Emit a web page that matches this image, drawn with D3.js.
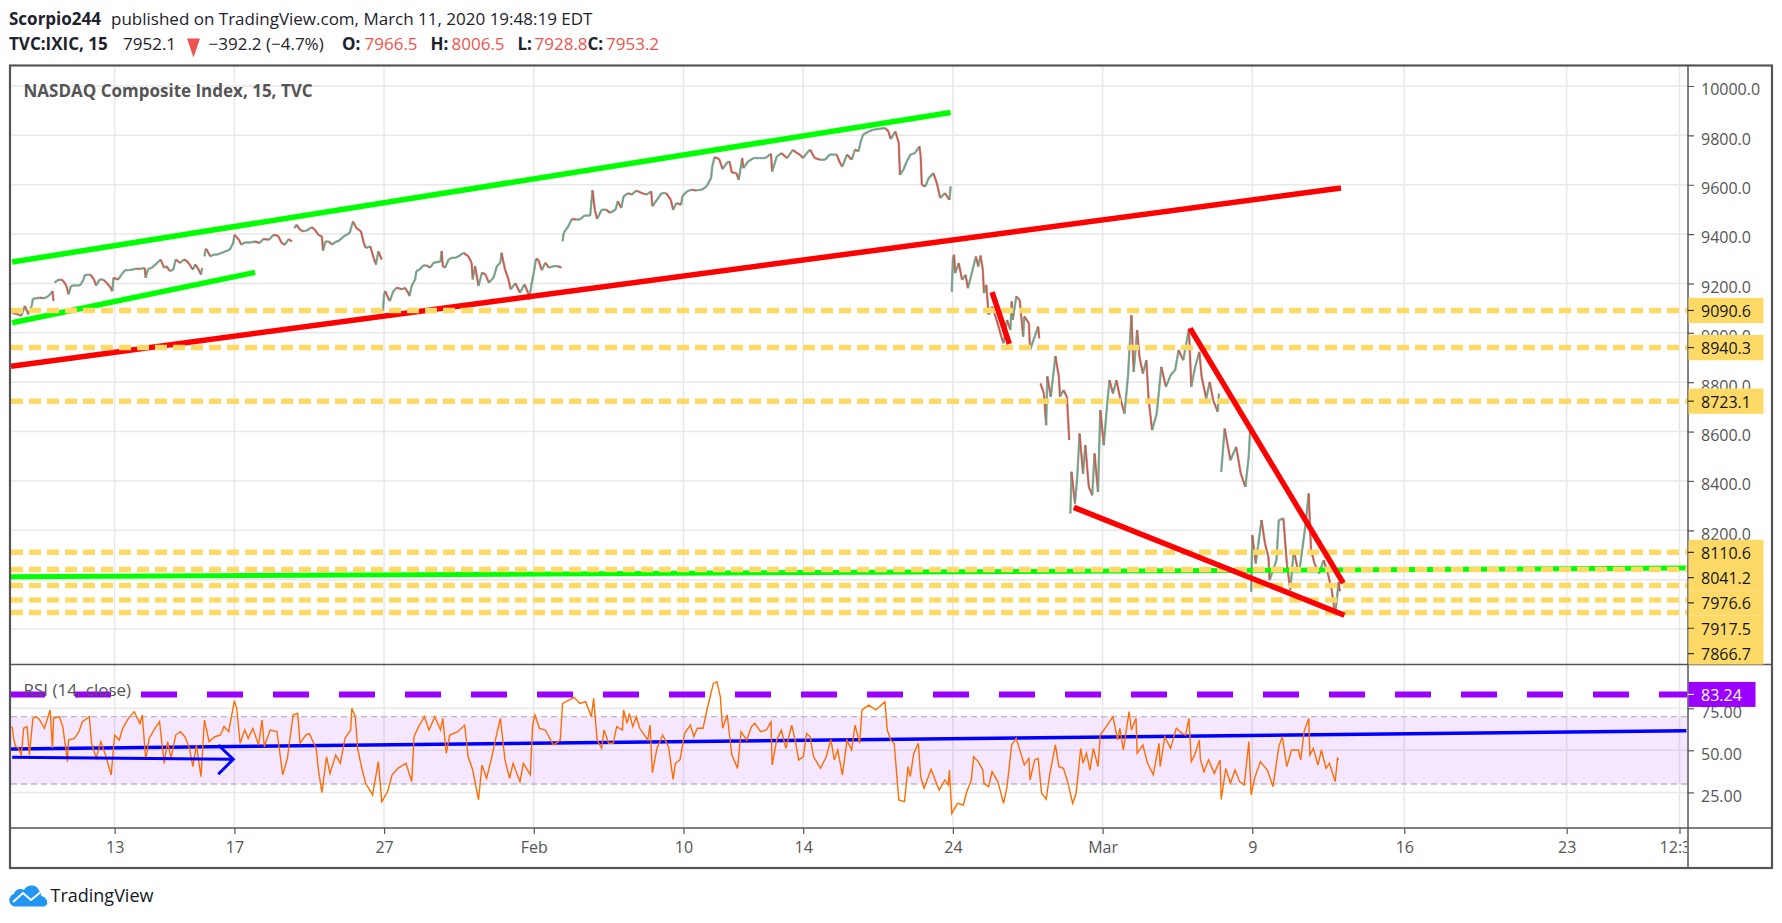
<!DOCTYPE html>
<html>
<head>
<meta charset="utf-8">
<title>NASDAQ Composite Index, 15, TVC</title>
<script src="https://cdn.jsdelivr.net/npm/d3@7"></script>
<style>
  html, body { margin: 0; padding: 0; background: #fff; overflow: hidden; }
  text { font-family: "Open Sans", "Noto Sans", sans-serif; }
</style>
</head>
<body>
<div id="chart"></div>
<script>
// price trace. bar = 15 minute bar number from the left edge
const priceBars = [1,3,6,9,12,15,18,19,22,25,28,31,34,36,37,38,40,43,45,48,50,52,54,57,60,63,64,69,72,74,77,80,83,86,88,89,93,96,99,102,105,109,112,116,117,119,122,127,130,133,135,138,141,143,147,150,153,155,158,160,163,165,166,168,169,170,173,176,179,184,190,193,194,198,200,203,208,212,216,219,224,228,232,235,238,241,244,246,248,251,254,257,261,264,267,270,271,273,276,279,282,284,289,294,297,300,304,306,308,312,315,317,319,322,323,324,325,328,329,332,335,340,342,345,
  346,348,351,352,355,358,361,364,367,370,373,374,375,377,380,383,386,390,393,397,400,401,403,406,409,412,415,419,422,425,426,429,432,434,438,442,446,449,450,452,454,456,458,461,464,467,471,475,478,479,480,484,487,491,494,498,503,505,507,509,513,517,520,525,527,530,532,536,539,543,548,552,556,557,561,565,569,573,575,578,582,583,587,591,595,600,604,608,609,611,615,618,622,624,626,630,632,635,636,640,645,650,655,660,661,665,669,674,679,682,
  685,688,691,694,698,703,707,711,714,717,720,722,726,730,733,736,738,740,745,749,753,759,762,764,768,771,772,775,778,781,785,789,790,791,794,797,801,804,807,811,815,816,817,818,819,820,823,826,829,831,834,838,840,842,844,845,847,849,852,856,860,862,865,868,869,870,873,876,879,880,884,885,888,892,893,894,897,899,900,903,907,910,911,914,917,919,
  920,921,924,926,928,931,933,936,939,941,944,946,949,952,954,957,960,963,967,970,973,975,978,980,983,986,988,991,995,999,1003,1007,1011,1014,1018,1023,1025,1028,1032,1034,1038,1041,1044,1048,1049,1051,1054,1059,1064,1068,1072,1075,1076,1077,1078,1081,1086,1089,1092,1093,1099,1101,1105,1108,1111,1114,1117,1119,1124,1127,1129,1132,1136,1140,1144,1147,1150,1153,1154];
const priceCloses = [9082,9078,9075,9069,9109,9075,9109,9138,9140,9142,9140,9144,9156,9169,9129,9203,9212,9216,9212,9192,9156,9189,9192,9192,9192,9216,9234,9236,9216,9192,9216,9216,9203,9187,9169,9223,9216,9236,9254,9254,9256,9260,9259,9263,9223,9259,9263,9283,9297,9263,9270,9250,9256,9297,9283,9297,9290,9277,9256,9277,9256,9236,9263,9310,9340,9337,9310,9317,9317,9326,9337,9364,9397,9377,9357,9366,9366,9370,9364,9380,9377,9397,9393,9364,9357,9380,9370,9424,9438,9417,9411,9415,9428,9417,9397,9391,9333,9370,9370,9357,9370,9370,9391,9404,9451,9424,9411,9370,9344,9350,9303,9277,9330,9297,9089,9156,9169,9136,9129,9169,9183,9176,9183,9162,
  9149,9190,9217,9250,9257,9273,9273,9264,9284,9287,9288,9331,9270,9264,9297,9304,9304,9314,9324,9311,9284,9217,9270,9190,9244,9237,9203,9223,9270,9284,9324,9257,9217,9176,9201,9163,9196,9163,9136,9196,9244,9300,9295,9254,9284,9264,9270,9270,9264,9371,9405,9432,9461,9459,9459,9475,9475,9577,9499,9461,9499,9499,9486,9499,9533,9506,9553,9566,9560,9576,9566,9560,9573,9513,9539,9566,9566,9539,9499,9526,9519,9553,9573,9580,9577,9580,9593,9627,9674,9712,9704,9663,9691,9694,9650,9647,9620,9708,9667,9694,9708,9708,9708,9725,9654,9714,9728,9708,9741,9730,
  9722,9708,9728,9742,9708,9701,9701,9722,9722,9722,9688,9674,9722,9701,9742,9735,9776,9803,9816,9823,9826,9830,9816,9785,9816,9769,9640,9661,9695,9722,9728,9755,9715,9600,9593,9627,9647,9607,9546,9566,9539,9593,9167,9302,9316,9242,9282,9215,9235,9181,9235,9309,9269,9313,9255,9161,9194,9073,9106,9052,8985,8958,9052,9012,9127,9052,9147,9133,8985,9066,9039,8931,8971,9025,8978,8795,8755,8626,8823,8741,8906,8823,8741,8768,8741,8566,
  8268,8437,8309,8417,8592,8430,8545,8376,8342,8511,8356,8687,8545,8714,8808,8754,8808,8741,8673,8822,9071,8842,9011,8903,8835,8889,8727,8606,8673,8862,8781,8828,8849,8930,8889,9017,8781,8855,8923,8822,8734,8801,8727,8680,8754,8437,8612,8484,8538,8430,8376,8504,8599,7951,8180,8066,8241,8147,8093,7998,8079,8241,8248,8066,7958,8120,8052,8039,8214,8349,8120,8066,8025,8079,8018,7958,7856,7991,7953];
// bars that open away from the previous close, no connection drawn
const gapBars = [38,168,246,323,479,817,894,920,1051,1077];

const rsiBars = [1,2,4,6,9,11,14,16,19,22,25,29,34,36,37,42,45,49,50,55,59,62,68,70,74,78,82,87,90,94,97,102,107,112,114,117,120,125,129,133,136,139,143,147,151,155,158,161,165,168,172,177,182,185,189,194,196,199,203,206,210,215,218,220,225,231,236,240,245,249,251,256,259,265,267,270,274,277,282,286,290,295,296,299,301,305,308,314,319,322,327,331,336,343,348,350,354,359,363,368,373,375,378,381,388,394,397,401,406,409,413,417,421,425,429,433,436,442,445,451,453,455,459,464,471,477,479,482,489,494,499,504,506,509,
  513,515,519,523,526,531,532,535,537,540,543,546,553,555,557,561,566,571,575,577,581,585,590,593,596,601,605,610,613,616,618,622,626,631,634,639,643,646,651,656,660,661,665,669,673,678,681,684,688,691,694,697,703,708,712,715,718,722,726,730,733,737,739,745,751,759,761,764,767,771,776,779,781,784,788,790,793,799,806,811,814,815,817,822,827,830,834,836,840,844,845,849,852,857,862,865,869,873,877,880,884,885,889,892,895,899,902,907,910,914,918,922,925,929,931,934,937,940,944,946,952,957,961,963,966,971,973,977,978,983,987,992,997,998,1002,1007,1012,1017,1020,1023,1025,1028,1032,
  1033,1036,1040,1045,1050,1051,1055,1059,1063,1067,1071,1075,1077,1080,1085,1091,1096,1101,1104,1108,1112,1118,1120,1123,1127,1128,1131,1135,1138,1142,1145,1150,1152,1153];
const rsiValues = [64.1,58.1,52.2,51.8,47.2,63.1,64.1,47.2,69,70,68,63.1,74,51.2,69,70,64.1,43.3,56.1,57.1,61.1,67,70,54.2,45.3,55.2,47.2,35.4,59.1,56.1,63.1,69,73,66,71,44.3,57.1,63.1,67,42.3,55.2,45.3,59.1,61.1,58.1,51.2,40.3,53.2,34.4,68,55.2,58.1,59.1,64.1,61.1,79.5,75,54.2,62.1,57.1,63.1,53.2,68,52.2,62.1,61.1,35.4,45.3,71,72,54.2,59.1,60.1,51.2,38.3,24.9,46.2,36.3,47.2,42.3,57.1,62.1,75,70,51.2,38.3,30.4,23.5,43.3,19.5,25.4,35.4,39.3,42.3,31.4,58.1,64.1,70,62.1,70,62.1,69,48.2,59.1,61.1,65,46.2,38.3,20.5,41.3,33.4,44.3,57.1,69,44.3,33.4,42.3,31.4,42.3,35.4,65,71,63.1,62.1,53.2,56.1,77.9,78.9,81.5,77.9,78.9,70,80.9,56.1,
  51.2,62.1,54.2,54.2,64.1,62.1,74,66,72,64.1,70,63.1,56.1,65,36.7,51.2,59.1,52.2,32.8,42.3,44.3,60.1,65,58.1,63.1,63.1,75.9,89.8,90.8,81.9,63.1,71,47.2,39.3,61.1,56.1,64.1,66,61.1,62.1,67,41.3,56.1,62.1,51.2,65,56.1,44.3,46.2,60.1,58.1,46.2,39.3,46.2,56.5,44.3,50.2,35.4,56.1,50.2,65,54.2,74,76.9,74,78.9,62.1,56.1,54.2,20.5,19.5,40.3,34.4,48.2,54.2,34.4,27.4,38.7,26.4,32.4,29.4,38.3,12.6,18.5,17.5,25.4,32.4,46.2,43.3,38.3,30.4,28.4,37.3,31.4,18.5,28.4,53.2,57.1,48.2,41.3,45.3,32.4,44.3,45.3,24.5,20.9,35.4,53.2,40.3,39.3,30.4,18.5,24.5,51.2,42.3,48.2,38.3,51.2,40.3,59.1,65,70,56.1,63.1,50.2,73,62.1,69,48.2,53.2,42.3,35.4,54.2,40.3,58.1,51.2,63.1,60.1,59.1,69,43.3,47.2,56.1,
  44.3,37.3,44.3,36.3,44.3,20.9,39.3,30.4,38.3,31.4,29.4,55.2,23.5,33.4,43.3,38.3,28.4,52.2,58.1,40.3,50.2,50.2,44.3,61.1,69,47.2,51.2,41.3,50.2,39.3,42.3,31.4,45.3,44.3];

const priceTicks = [10000,9800,9600,9400,9200,9000,8800,8600,8400,8200,8000,7800];
const rsiTicks = [75,50,25];
const timeTickBars = [90,194,324,454,584,688,818,948,1078,1210,1351,1449];
const timeTickLabels = ["13","17","27","Feb","10","14","24","Mar","9","16","23","12:30"];

// horizontal levels with labels on the price scale
const levelPrices = [9090.6,8940.3,8723.1,8110.6,8041.2,7976.6,7917.5,7866.7];
const rsiLevel = 83.24;
const rsiBand = [70,30];

// drawn trend lines, [bar, price] at each end
const lineBars = {
  greenTop: [1,816], greenLow: [1,212], greenFlat: [0,1455], redLong: [0,1155],
  redSlash: [852,867], wedgeTop: [1024,1157], wedgeLow: [923,1158]
};
const linePrices = {
  greenTop: [9287,9893], greenLow: [9041,9245], greenFlat: [8012,8047], redLong: [8865,9587],
  redSlash: [9165,8955], wedgeTop: [9018,7986], wedgeLow: [8293,7856]
};
const rsiTrendBars = [0,1455];
const rsiTrendValues = [50.8,61.7];
const arrowBars = [1,193,180,193,180];
const arrowValues = [45.9,44.7,53.2,44.7,35.8];

const width = 1782, height = 923;
const plotLeft = 11, plotRight = 1688, plotTop = 66, paneSplit = 664.5, timeTop = 828, plotBottom = 868, plotEdge = 1772;

const xScale = d3.scaleLinear().domain([0,1078]).range([11,1252.3]);
const yPrice = d3.scaleLinear().domain([10000,8200]).range([86,530.3]);
const yRsi = d3.scaleLinear().domain([70,30]).range([716.7,784]);

const svg = d3.select("#chart").append("svg")
  .attr("width", width)
  .attr("height", height)
  .style("display", "block");

const defs = svg.append("defs");
defs.append("clipPath").attr("id", "clip-price").append("rect")
  .attr("x", plotLeft).attr("y", plotTop).attr("width", plotRight - plotLeft - 1).attr("height", paneSplit - plotTop);
defs.append("clipPath").attr("id", "clip-rsi").append("rect")
  .attr("x", plotLeft).attr("y", paneSplit).attr("width", plotRight - plotLeft - 1).attr("height", timeTop - paneSplit);
defs.append("clipPath").attr("id", "clip-time").append("rect")
  .attr("x", plotLeft).attr("y", timeTop).attr("width", plotRight - plotLeft - 1).attr("height", plotBottom - timeTop);
defs.append("clipPath").attr("id", "clip-scale").append("rect")
  .attr("x", plotRight).attr("y", plotTop).attr("width", plotEdge - plotRight).attr("height", paneSplit - plotTop);

// header
const headRows = [
  { y: 24.5, bits: [
    { x: 9, t: "Scorpio244", w: 700 },
    { x: 111, t: "published on TradingView.com, March 11, 2020 19:48:19 EDT" }
  ]},
  { y: 49.5, bits: [
    { x: 9, t: "TVC:IXIC, 15", w: 700 },
    { x: 123, t: "7952.1" },
    { x: 208.5, t: "\u2212392.2 (\u22124.7%)" },
    { x: 342, t: "O:", w: 700 },
    { x: 364.5, t: "7966.5", c: "#ef5350" },
    { x: 430.5, t: "H:", w: 700 },
    { x: 451.5, t: "8006.5", c: "#ef5350" },
    { x: 517.5, t: "L:", w: 700 },
    { x: 534.5, t: "7928.8", c: "#ef5350" },
    { x: 587.5, t: "C:", w: 700 },
    { x: 606, t: "7953.2", c: "#ef5350" }
  ]}
];
headRows.forEach(row => {
  row.bits.forEach(b => {
    svg.append("text").attr("x", b.x).attr("y", row.y).text(b.t)
      .attr("font-size", 17).attr("font-weight", b.w || 400).attr("fill", b.c || "#1e222d");
  });
});
svg.append("path").attr("d", "M187,38.5 h13 l-6.5,19 z").attr("fill", "#ef5350");

// grid
const gridG = svg.append("g").attr("stroke", "#e8e8e8").attr("stroke-width", 1.5);
gridG.selectAll(".vp").data(timeTickBars).enter().append("line")
  .attr("x1", d => xScale(d)).attr("x2", d => xScale(d))
  .attr("y1", plotTop).attr("y2", timeTop);
gridG.selectAll(".hp").data(priceTicks).enter().append("line")
  .attr("x1", plotLeft).attr("x2", plotRight)
  .attr("y1", d => yPrice(d)).attr("y2", d => yPrice(d));
gridG.selectAll(".hr").data(rsiTicks).enter().append("line")
  .attr("x1", plotLeft).attr("x2", plotRight)
  .attr("y1", d => yRsi(d)).attr("y2", d => yRsi(d));

// price pane
const priceG = svg.append("g").attr("clip-path", "url(#clip-price)");

const tracePairs = priceBars.map((b, i) => ({ bar: b, close: priceCloses[i], prev: priceCloses[i - 1], prevBar: priceBars[i - 1] })).slice(1)
  .filter(d => !gapBars.includes(d.bar));

priceG.append("g").selectAll("line").data(tracePairs).enter().append("line")
  .attr("x1", d => xScale(d.prevBar)).attr("x2", d => xScale(d.bar))
  .attr("y1", d => yPrice(d.prev)).attr("y2", d => yPrice(d.close))
  .attr("stroke", "#737375").attr("stroke-width", 2.4).attr("stroke-opacity", 0.55);
priceG.append("g").selectAll("line").data(tracePairs).enter().append("line")
  .attr("x1", d => xScale(d.prevBar)).attr("x2", d => xScale(d.bar))
  .attr("y1", d => yPrice(d.prev)).attr("y2", d => yPrice(d.close))
  .attr("stroke", d => d.close >= d.prev ? "#6ba583" : "#d75442").attr("stroke-width", 1.5);

function drawTrend(name, color, w) {
  priceG.append("line")
    .attr("x1", xScale(lineBars[name][0])).attr("x2", xScale(lineBars[name][1]))
    .attr("y1", yPrice(linePrices[name][0])).attr("y2", yPrice(linePrices[name][1]))
    .attr("stroke", color).attr("stroke-width", w);
}
drawTrend("greenTop", "#00ff00", 5.5);
drawTrend("greenLow", "#00ff00", 5.5);
drawTrend("greenFlat", "#00ff00", 5);
drawTrend("redLong", "#ff0000", 5.5);

priceG.append("g").selectAll("line").data(levelPrices).enter().append("line")
  .attr("x1", plotLeft).attr("x2", plotRight)
  .attr("y1", d => yPrice(d)).attr("y2", d => yPrice(d))
  .attr("stroke", "#ffd966").attr("stroke-width", 5.5)
  .attr("stroke-dasharray", "12 6");

drawTrend("redSlash", "#ff0000", 5.5);
drawTrend("wedgeTop", "#ff0000", 5.5);
drawTrend("wedgeLow", "#ff0000", 5.5);

svg.append("text").attr("x", 23.5).attr("y", 96.5).text("NASDAQ Composite Index, 15, TVC")
  .attr("font-size", 17).attr("font-weight", 700).attr("fill", "#555");

// rsi pane
const rsiG = svg.append("g").attr("clip-path", "url(#clip-rsi)");
rsiG.append("rect")
  .attr("x", plotLeft).attr("width", plotRight - plotLeft)
  .attr("y", yRsi(rsiBand[0])).attr("height", yRsi(rsiBand[1]) - yRsi(rsiBand[0]))
  .attr("fill", "#9915ff").attr("fill-opacity", 0.1);
rsiG.append("g").selectAll("line").data(rsiBand).enter().append("line")
  .attr("x1", plotLeft).attr("x2", plotRight)
  .attr("y1", d => yRsi(d)).attr("y2", d => yRsi(d))
  .attr("stroke", "#bcb8c0").attr("stroke-width", 1.3).attr("stroke-dasharray", "6 4");

const rsiPath = d3.line().x(d => xScale(d[0])).y(d => yRsi(d[1]));
rsiG.append("line")
  .attr("x1", xScale(rsiTrendBars[0])).attr("x2", xScale(rsiTrendBars[1]))
  .attr("y1", yRsi(rsiTrendValues[0])).attr("y2", yRsi(rsiTrendValues[1]))
  .attr("stroke", "#0000ff").attr("stroke-width", 3.5);
rsiG.append("path")
  .attr("d", rsiPath(rsiBars.map((b, i) => [b, rsiValues[i]])))
  .attr("fill", "none").attr("stroke", "#ff6d00").attr("stroke-width", 1.4);
rsiG.append("line")
  .attr("x1", plotLeft).attr("x2", plotRight)
  .attr("y1", yRsi(rsiLevel)).attr("y2", yRsi(rsiLevel))
  .attr("stroke", "#9900ff").attr("stroke-width", 6)
  .attr("stroke-dasharray", "36 30").attr("stroke-dashoffset", 2);
// arrow: shaft, then head
rsiG.append("path")
  .attr("d", rsiPath([[arrowBars[0],arrowValues[0]],[arrowBars[1],arrowValues[1]]]) + rsiPath([[arrowBars[2],arrowValues[2]],[arrowBars[3],arrowValues[3]],[arrowBars[4],arrowValues[4]]]))
  .attr("fill", "none").attr("stroke", "#0000ff").attr("stroke-width", 3);
svg.append("text").attr("x", 23.5).attr("y", 696).text("RSI (14, close)")
  .attr("font-size", 17).attr("fill", "#555");

// price scale
function styleAxis(g, size) {
  g.select(".domain").remove();
  g.selectAll("line").attr("stroke", "#555").attr("stroke-width", 1.2);
  g.selectAll("text").attr("font-size", size).attr("fill", "#555").attr("dy", "0.55em").attr("font-family", "\"Open Sans\", sans-serif");
}
svg.append("g").attr("clip-path", "url(#clip-scale)").append("g")
  .attr("transform", `translate(${plotRight},0)`)
  .call(d3.axisRight(yPrice).tickValues(priceTicks).tickFormat(d3.format(".1f")).tickSize(6).tickPadding(7))
  .call(g => styleAxis(g, 16));
svg.append("g")
  .attr("transform", `translate(${plotRight},0)`)
  .call(d3.axisRight(yRsi).tickValues(rsiTicks).tickFormat(d3.format(".2f")).tickSize(6).tickPadding(7))
  .call(g => styleAxis(g, 16));

// time scale
svg.append("g").attr("clip-path", "url(#clip-time)").append("g")
  .attr("transform", `translate(0,${timeTop})`)
  .call(d3.axisBottom(xScale).tickValues(timeTickBars).tickFormat((d, i) => timeTickLabels[i]).tickSize(6).tickPadding(8))
  .call(g => {
    g.select(".domain").remove();
    g.selectAll("line").attr("stroke", "#555").attr("stroke-width", 1.2);
    g.selectAll("text").attr("font-size", 16).attr("fill", "#555").attr("font-family", "\"Open Sans\", sans-serif");
  });

// frame
const frame = svg.append("g").attr("fill", "none").attr("stroke", "#555");
frame.append("line").attr("x1", plotRight).attr("x2", plotRight).attr("y1", plotTop).attr("y2", plotBottom).attr("stroke-width", 1.5);
frame.append("line").attr("x1", plotLeft).attr("x2", plotEdge).attr("y1", paneSplit).attr("y2", paneSplit).attr("stroke-width", 1.5);
frame.append("line").attr("x1", plotLeft).attr("x2", plotEdge).attr("y1", timeTop).attr("y2", timeTop).attr("stroke-width", 1.5);
frame.append("rect").attr("x", 10).attr("y", 65.5).attr("width", plotEdge - 10).attr("height", plotBottom - 65.5).attr("stroke-width", 2.2);

// level labels, pushed down when they would overlap
const labelH = 25.3;
const labelG = svg.append("g").attr("clip-path", "url(#clip-scale)");
let lastY = -100;
levelPrices.forEach(p => {
  const ly = Math.max(yPrice(p), lastY + labelH);
  lastY = ly;
  labelG.append("rect").attr("x", plotRight + 0.5).attr("y", ly - labelH / 2).attr("width", 75).attr("height", labelH).attr("fill", "#ffd966");
  labelG.append("line").attr("x1", plotRight).attr("x2", plotRight + 6).attr("y1", ly).attr("y2", ly).attr("stroke", "#333").attr("stroke-width", 1.2);
  labelG.append("text").attr("x", plotRight + 13).attr("y", ly + 6.5).text(d3.format(".1f")(p))
    .attr("font-size", 16).attr("fill", "#131722");
});
const rsiLabelY = yRsi(rsiLevel);
svg.append("rect").attr("x", plotRight + 0.5).attr("y", rsiLabelY - 12.5).attr("width", 67).attr("height", 25).attr("fill", "#9900ff");
svg.append("line").attr("x1", plotRight).attr("x2", plotRight + 6).attr("y1", rsiLabelY).attr("y2", rsiLabelY).attr("stroke", "#fff").attr("stroke-width", 1.2);
svg.append("text").attr("x", plotRight + 13).attr("y", rsiLabelY + 6.5).text(d3.format(".2f")(rsiLevel))
  .attr("font-size", 16).attr("fill", "#fff");

// logo
const logo = svg.append("g");
logo.append("path")
  .attr("d", "M16,906.5 C8,906.5 7,896 14,894 C15,889 21,888 24,890 C27,884 37,884 39,891 C42,892 41,895 41,896 C48,897 50,906.5 43,906.5 Z")
  .attr("fill", "#2196f3");
logo.append("path")
  .attr("d", "M13,902 L23,893 L31,900 L42,891")
  .attr("fill", "none").attr("stroke", "#fff").attr("stroke-width", 2);
svg.append("text").attr("x", 50.5).attr("y", 902).text("TradingView")
  .attr("font-size", 18).attr("fill", "#131722");
</script>
</body>
</html>
